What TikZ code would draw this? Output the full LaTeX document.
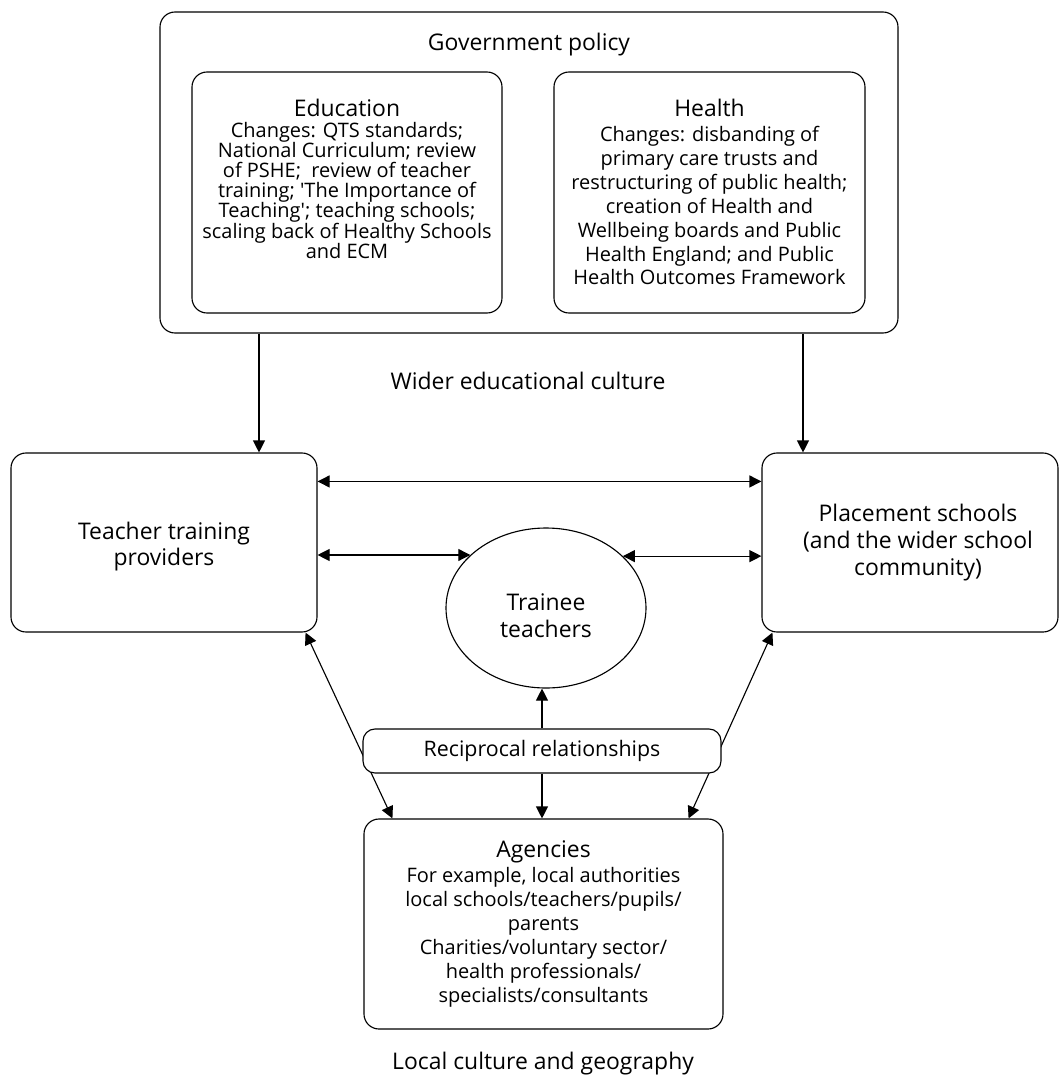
\documentclass[tikz,border=0pt]{standalone}
\usepackage{fontspec}
\setmainfont{Open Sans}
\usetikzlibrary{shapes.geometric}
\usetikzlibrary{arrows.meta}

\newcommand{\bigsize}{\fontsize{16.3}{19}\selectfont}
\newcommand{\bodysize}{\fontsize{14.2}{17}\selectfont}
\newcommand{\tightsize}{\fontsize{14.2}{14.2}\selectfont}

\begin{document}
\begin{tikzpicture}[scale = 1]
    \tikzstyle{box}=[draw,rounded corners=.375cm,line width=.8pt,fill=white,inner sep=0pt]
    \tikzstyle{link}=[draw,line width=.8pt,-{Triangle[length=.3cm,width=.3cm]}]
    \tikzstyle{both}=[draw,line width=.8pt,{Triangle[length=.3cm,width=.3cm]}-{Triangle[length=.3cm,width=.3cm]}]
    \tikzstyle{heading}=[font=\bigsize,align=center]
    \tikzstyle{body}=[font=\bodysize,align=center]
    \useasboundingbox (0,0) rectangle (26.475,-26.925);
    % policy level
    \node[box,minimum width=18.45cm,minimum height=8.025cm] (gov) at (13.225,-4.3125) {};
    \node[heading] (govtitle) at (13.225,-1.125) {Government policy};
    \node[box,minimum width=7.75cm,minimum height=6.025cm] (edu) at (8.675,-4.8125) {};
    \node[box,minimum width=7.775cm,minimum height=6.025cm] (hlth) at (17.7375,-4.8125) {};
    \node[body,font=\tightsize] (edutxt) at (8.675,-4.475) {{\bigsize Education}\\[1pt]
        Changes: QTS standards;\\National Curriculum; review\\of PSHE;\ \ review of teacher\\
        training; \textquotesingle The Importance of\\Teaching\textquotesingle; teaching schools;\\
        scaling back of Healthy Schools\\and ECM};
    \node[body] (hlthtxt) at (17.7375,-4.8) {{\bigsize Health}\\[1pt]
        Changes: disbanding of\\primary care trusts and\\restructuring of public health;\\
        creation of Health and\\Wellbeing boards and Public\\Health England; and Public\\
        Health Outcomes Framework};
    \node[heading] (wider) at (13.2,-9.525) {Wider educational culture};
    % middle level
    \node[box,minimum width=7.65cm,minimum height=4.475cm] (ttp) at (4.1,-13.5625) {};
    \node[heading] (ttptxt) at ([yshift=-.1cm]ttp.center) {Teacher training\\providers};
    \node[box,minimum width=7.4cm,minimum height=4.475cm] (plc) at (22.75,-13.5625) {};
    \node[heading] (plctxt) at ([xshift=.2cm]plc.center) {Placement schools\\(and the wider school\\community)};
    \node[draw,ellipse,line width=.8pt,inner sep=0pt,minimum width=5cm,minimum height=4cm] (trainee) at (13.65,-15.2) {};
    \node[heading] (traineetxt) at ([yshift=-.2cm]trainee.center) {Trainee\\teachers};
    % local level
    \node[box,body,minimum width=8.975cm,minimum height=5.25cm] (agency) at (13.5875,-23.1) {{\bigsize Agencies}\\[1pt]
        For example, local authorities\\local schools/teachers/pupils/\\parents\\
        Charities/voluntary sector/\\health professionals/\\specialists/consultants};
    \node[heading] (local) at (13.575,-26.6) {Local culture and geography};
    \coordinate (dropL) at ([xshift=2.375cm]ttp.north);
    \coordinate (dropR) at ([xshift=-2.675cm]plc.north);
    \draw[link] (dropL |- gov.south) -- (dropL);
    \draw[link] (dropR |- gov.south) -- (dropR);
    \draw[both] ([yshift=-.725cm]ttp.north east) -- ([yshift=-.725cm]plc.north west);
    \draw[both] (ttp.east |- trainee.145.6) -- (trainee.145.6);
    \draw[both] (plc.west |- trainee.34.4) -- (trainee.34.4);
    \draw[both] ([xshift=-.3cm]ttp.south east) -- ([xshift=.725cm]agency.north west);
    \draw[both] ([xshift=.275cm]plc.south west) -- ([xshift=-.875cm]agency.north east);
    \node[box,rounded corners=.3cm,font=\fontsize{15.2}{18}\selectfont,minimum width=8.95cm,minimum height=1.1cm] (recip) at (13.55,-18.775) {Reciprocal relationships};
    \draw[link] (recip.north) -- (recip.north |- trainee.south);
    \draw[link] (recip.south) -- (recip.south |- agency.north);
\end{tikzpicture}
\end{document}
